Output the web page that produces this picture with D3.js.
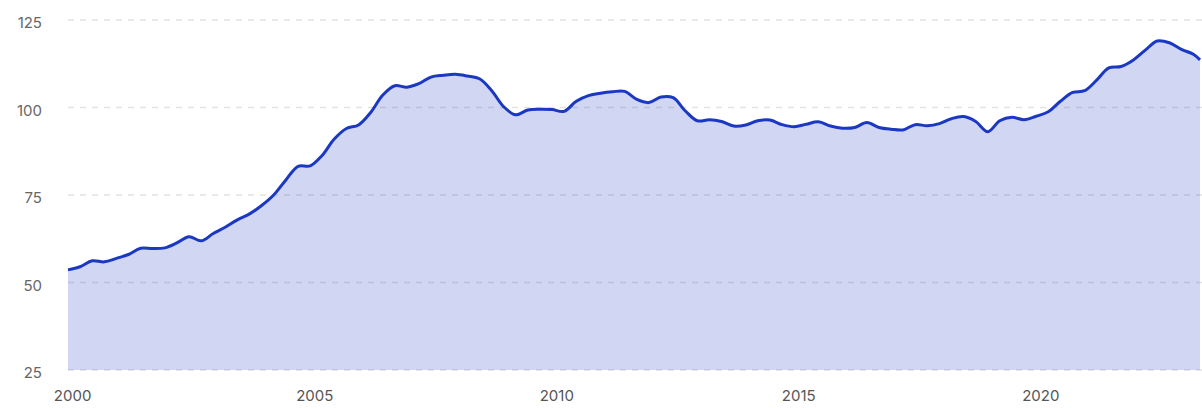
<!DOCTYPE html>
<html>
<head>
<meta charset="utf-8">
<script src="https://cdn.jsdelivr.net/npm/d3@7"></script>
<style>
  body { margin: 0; background: #fff; }
  #chart text { font-family: Inter, "Noto Sans", sans-serif; }
</style>
</head>
<body>
<div id="chart"></div>
<script>
// Quarterly index values (first point Dec 1999)
const startDate = new Date(1999, 11, 1);
const values = [
  53.6, 54.5, 56.2, 55.9, 56.9, 58.0, 59.8, 59.7, 59.9, 61.3,
  63.1, 61.9, 64.0, 65.8, 67.9, 69.6, 72.0, 75.0, 79.3, 83.2,
  83.3, 86.3, 91.0, 94.0, 95.0, 98.5, 103.5, 106.2, 105.8, 106.8,
  108.7, 109.2, 109.5, 109.0, 108.2, 104.8, 100.2, 97.9, 99.3, 99.5,
  99.4, 98.9, 101.8, 103.4, 104.1, 104.5, 104.6, 102.3, 101.4, 103.0,
  102.8, 99.0, 96.2, 96.5, 96.0, 94.7, 95.0, 96.2, 96.4, 95.1,
  94.5, 95.2, 95.9, 94.7, 94.1, 94.3, 95.7, 94.3, 93.8, 93.6,
  95.1, 94.8, 95.4, 96.8, 97.4, 96.0, 93.1, 96.2, 97.2, 96.5,
  97.5, 98.8, 101.8, 104.3, 104.8, 107.8, 111.3, 111.7, 113.5, 116.3,
  119.0, 118.5, 116.6, 115.2
];
const lastDate = new Date(2023, 3, 20);
const lastValue = 113.6;

const yTicks = [25, 50, 75, 100, 125];
const xTickYears = [2000, 2005, 2010, 2015, 2020];

const data = values.map((v, i) => ({ date: d3.timeMonth.offset(startDate, i * 3), value: v }));
data.push({ date: lastDate, value: lastValue });

const width = 1202, height = 408;
const plot = { left: 68, right: 1200, top: 20, bottom: 370 };

const svg = d3.select("#chart")
  .append("svg")
  .attr("width", width)
  .attr("height", height);

const x = d3.scaleTime()
  .domain(d3.extent(data, d => d.date))
  .range([plot.left, plot.right]);

const y = d3.scaleLinear()
  .domain([25, 125])
  .range([plot.bottom, plot.top]);

// Grid lines
svg.append("g")
  .selectAll("line")
  .data(yTicks)
  .enter().append("line")
  .attr("x1", plot.left)
  .attr("x2", width)
  .attr("y1", d => y(d))
  .attr("y2", d => y(d))
  .attr("stroke", "#e2e2e2")
  .attr("stroke-width", 1.5)
  .attr("stroke-dasharray", "6,6");

// Area
svg.append("path")
  .datum(data)
  .attr("fill", "rgb(40,60,195)")
  .attr("fill-opacity", 0.21)
  .attr("d", d3.area()
    .curve(d3.curveCatmullRom)
    .x(d => x(d.date))
    .y0(y(25))
    .y1(d => y(d.value)));

// Line
svg.append("path")
  .datum(data)
  .attr("fill", "none")
  .attr("stroke", "#1b38c2")
  .attr("stroke-width", 3)
  .attr("stroke-linejoin", "round")
  .attr("d", d3.line()
    .curve(d3.curveCatmullRom)
    .x(d => x(d.date))
    .y(d => y(d.value)));

// Y axis labels
const yAxis = svg.append("g")
  .attr("transform", "translate(42,3)")
  .call(d3.axisLeft(y).tickValues(yTicks).tickSize(0).tickPadding(0));
yAxis.select(".domain").remove();
yAxis.selectAll("text")
  .attr("fill", "#666")
  .style("font-size", "15px");

// X axis labels
const xAxis = svg.append("g")
  .attr("transform", "translate(0,390)")
  .call(d3.axisBottom(x)
    .tickValues(xTickYears.map(yr => new Date(yr, 0, 1)))
    .tickFormat(d3.timeFormat("%Y"))
    .tickSize(0).tickPadding(0));
xAxis.select(".domain").remove();
xAxis.selectAll("text")
  .attr("fill", "#555")
  .style("font-size", "15px");
</script>
</body>
</html>
